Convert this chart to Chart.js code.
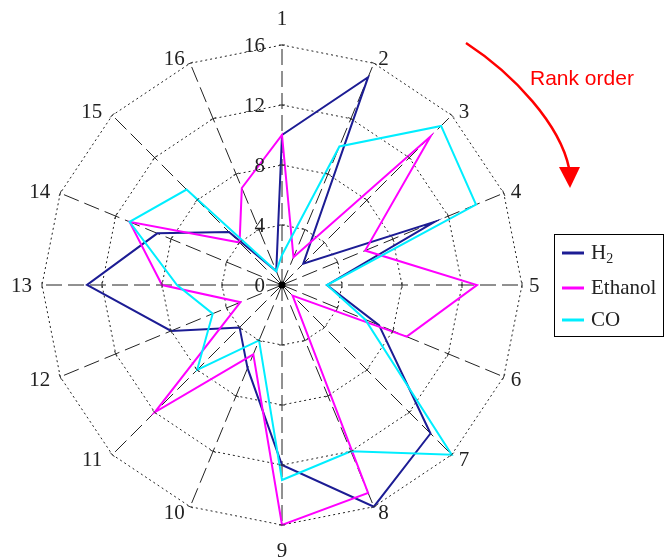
<!DOCTYPE html>
<html><head><meta charset="utf-8">
<script src="https://cdn.jsdelivr.net/npm/chart.js@4/dist/chart.umd.min.js"></script>
<style>
html,body{margin:0;padding:0;background:#fff;}
#wrap{position:relative;width:665px;height:560px;overflow:hidden;}
</style></head><body>
<div id="wrap"><canvas id="c" width="665" height="560"></canvas></div>
<script>
const categories = ['1','2','3','4','5','6','7','8','9','10','11','12','13','14','15','16'];
const h2Ranks      = [10,15,2,11,3,7,14,16,12,6,4,8,13,9,5,1];
const ethanolRanks = [10,2,14,6,13,9,1,15,16,5,12,3,8,11,4,7];
const coRanks      = [2,10,15,14,3,6,16,12,13,4,8,5,7,11,9,1];
const radialTicks  = [0,4,8,12,16];
const seriesNames  = ['H2','Ethanol','CO'];
const seriesColors = ['#1c1c94','#ff00ff','#00eeff'];
const annotationText = 'Rank order';

const seriesData = [h2Ranks, ethanolRanks, coRanks];
const SERIF = '"Liberation Serif", "Times New Roman", serif';

const overlay = {
  id: 'overlay',
  afterDraw(chart) {
    const s = chart.scales.r, ctx = chart.ctx;
    const cx = s.xCenter, cy = s.yCenter, R = s.drawingArea;
    const n = categories.length;
    ctx.save();
    // small ticks on angle lines
    ctx.strokeStyle = '#333'; ctx.lineWidth = 1; ctx.setLineDash([]);
    for (let i = 0; i < n; i++) {
      const a = i * 2 * Math.PI / n;
      const px = Math.cos(a), py = Math.sin(a);
      radialTicks.forEach(v => {
        if (v === 0) return;
        const p = s.getPointPositionForValue(i, v);
        ctx.beginPath();
        ctx.moveTo(p.x - px * 3, p.y - py * 3);
        ctx.lineTo(p.x + px * 3, p.y + py * 3);
        ctx.stroke();
      });
    }
    // radial tick labels
    ctx.font = '21px ' + SERIF;
    ctx.fillStyle = '#222';
    ctx.textAlign = 'right'; ctx.textBaseline = 'middle';
    radialTicks.forEach(v => {
      const d = s.getDistanceFromCenterForValue(v);
      ctx.fillText(String(v), cx - 17, cy - d + 1);
    });
    // point labels
    ctx.textAlign = 'center';
    categories.forEach((lab, i) => {
      const p = s.getPointPosition(i, R);
      const a = i * 2 * Math.PI / n;
      const sn = Math.sin(a), cs = Math.cos(a);
      const w = ctx.measureText(lab).width;
      let x, y;
      if (Math.abs(sn) < 0.01) { x = p.x; y = p.y - cs * 26; }
      else {
        const f = Math.abs(sn) < 0.5 ? 0.78 : 1;
        x = p.x + (sn > 0 ? (7 + w / 2) : -(10 + w / 2)) * f;
        y = p.y - cs * 6 + 1.5;
      }
      ctx.fillText(lab, x, y);
    });
    // center dot
    ctx.fillStyle = '#000';
    ctx.beginPath(); ctx.arc(cx, cy, 3.5, 0, 2 * Math.PI); ctx.fill();

    // legend (from datasets)
    ctx.fillStyle = '#fff';
    ctx.fillRect(555, 235, 109, 101);
    ctx.strokeStyle = '#000'; ctx.lineWidth = 1;
    ctx.strokeRect(554.5, 234.5, 109, 102);
    const rowY = [253, 288, 320];
    chart.data.datasets.forEach((ds, k) => {
      const y = rowY[k];
      ctx.strokeStyle = ds.borderColor; ctx.lineWidth = 3;
      ctx.beginPath(); ctx.moveTo(562, y); ctx.lineTo(584, y); ctx.stroke();
      ctx.fillStyle = '#222';
      ctx.textAlign = 'left'; ctx.textBaseline = 'middle';
      const m = ds.label.match(/^(.*?[A-Za-z])(\d+)$/);
      if (m) {
        ctx.font = '21px ' + SERIF;
        ctx.fillText(m[1], 591, y);
        const w = ctx.measureText(m[1]).width;
        ctx.font = '14px ' + SERIF;
        ctx.fillText(m[2], 591 + w, y + 6);
      } else {
        ctx.font = '21px ' + SERIF;
        ctx.fillText(ds.label, 591, y);
      }
    });

    // annotation arrow
    ctx.strokeStyle = '#ff0000'; ctx.fillStyle = '#ff0000'; ctx.lineWidth = 2.5;
    ctx.beginPath();
    ctx.moveTo(466, 43);
    ctx.bezierCurveTo(515, 75, 560, 125, 569, 168);
    ctx.stroke();
    ctx.beginPath();
    ctx.moveTo(559, 167); ctx.lineTo(580, 167); ctx.lineTo(570, 188); ctx.closePath(); ctx.fill();
    ctx.font = '21px "Liberation Sans", Arial, sans-serif';
    ctx.textAlign = 'left'; ctx.textBaseline = 'alphabetic';
    ctx.fillText(annotationText, 530, 85);
    ctx.restore();
  }
};

new Chart(document.getElementById('c'), {
  type: 'radar',
  data: {
    labels: categories,
    datasets: seriesData.map((d, k) => ({
      label: seriesNames[k],
      data: d,
      borderColor: seriesColors[k],
      backgroundColor: seriesColors[k],
      borderWidth: 2,
      pointRadius: 0,
      fill: false,
      tension: 0,
      order: 2 - k
    }))
  },
  options: {
    responsive: false,
    animation: false,
    devicePixelRatio: 1,
    events: [],
    layout: { padding: { left: 42, top: 45, right: 143, bottom: 35 } },
    plugins: { legend: { display: false }, tooltip: { enabled: false } },
    scales: {
      r: {
        min: 0, max: 16,
        ticks: { display: false, stepSize: 4 },
        pointLabels: { display: false },
        grid: { color: '#222', lineWidth: 1 },
        border: { dash: [2, 3] },
        angleLines: { color: '#222', lineWidth: 1, borderDash: [16, 6] }
      }
    }
  },
  plugins: [overlay]
});
</script>
</body></html>
